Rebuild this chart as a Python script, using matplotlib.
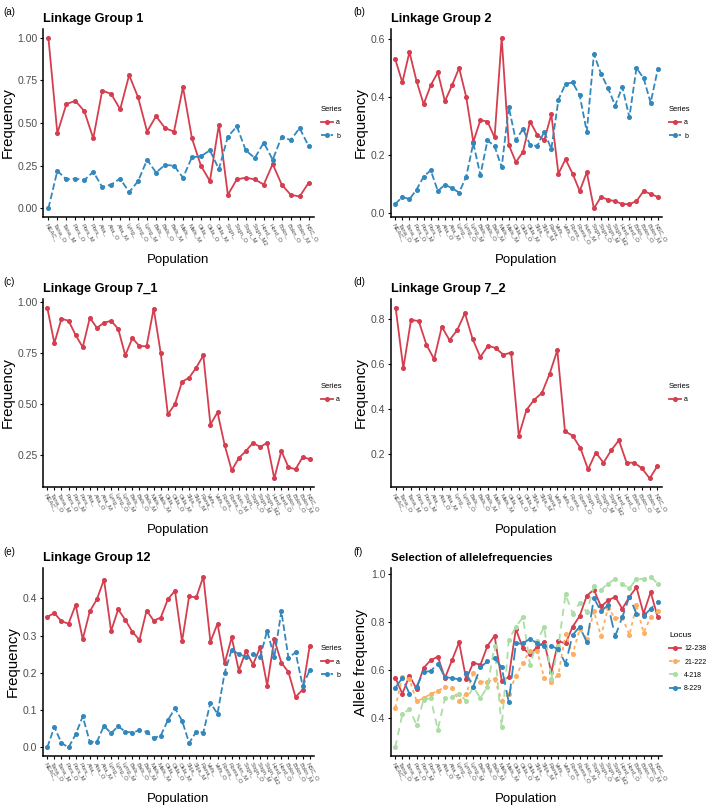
import matplotlib
matplotlib.use("Agg")
import matplotlib.pyplot as plt

plt.rcParams['font.family'] = ['Liberation Sans', 'DejaVu Sans']

# population labels
pops30 = ["NEAC_", "Tana_O", "Tana_M", "Pors_O", "Pors_M", "Pors_", "Alta_", "Alta_O",
          "Alta_M", "Lyng_", "Lyng_O", "Lyng_M", "Bals_", "Bals_O", "Bals_M", "Mals_",
          "Mals_M", "Okla_", "Okla_O", "Okla_M", "Sogn_", "Sogn_O", "Sogn_M", "Sogn_M2",
          "Hord_", "Hord_O", "Bokn_", "Bokn_O", "Bokn_M", "NSC_O"]
pops38 = ["NEAC_", "Tana_O", "Tana_M", "Pors_O", "Pors_M", "Pors_", "Alta_", "Alta_O",
          "Alta_M", "Lyng_", "Lyng_O", "Lyng_M", "Bals_", "Bals_O", "Bals_M", "Mals_",
          "Mals_M", "Okla_", "Okla_O", "Okla_M", "Skja_", "Skja_M", "Rana_", "Vefs_",
          "Vefs_O", "Roms_", "Roms_O", "Kvin_M", "Sogn_", "Sogn_O", "Sogn_M", "Sogn_M2",
          "Hord_", "Hord_O", "Bokn_", "Bokn_O", "Bokn_M", "NSC_O"]
pops35 = [p for p in pops38 if p not in ("Pors_", "Lyng_M", "Kvin_M")]

# linkage group 1
lg1_a = [1.00, 0.44, 0.61, 0.63, 0.57, 0.41, 0.69, 0.67, 0.58, 0.78, 0.65, 0.45, 0.54, 0.47, 0.45,
         0.71, 0.41, 0.25, 0.16, 0.49, 0.08, 0.17, 0.18, 0.17, 0.14, 0.26, 0.14, 0.08, 0.07, 0.15]
lg1_b = [0.00, 0.22, 0.17, 0.175, 0.165, 0.215, 0.125, 0.14, 0.175, 0.095, 0.16, 0.285, 0.21, 0.255, 0.25,
         0.18, 0.30, 0.305, 0.34, 0.23, 0.42, 0.48, 0.34, 0.295, 0.385, 0.285, 0.42, 0.40, 0.47, 0.365]

# linkage group 2
lg2_a = [0.53, 0.45, 0.555, 0.455, 0.375, 0.44, 0.485, 0.385, 0.44, 0.50, 0.40, 0.245, 0.32, 0.315,
         0.26, 0.605, 0.235, 0.175, 0.21, 0.315, 0.27, 0.25, 0.34, 0.135, 0.185, 0.135, 0.075, 0.14,
         0.015, 0.055, 0.045, 0.04, 0.03, 0.03, 0.04, 0.075, 0.065, 0.055]
lg2_b = [0.03, 0.055, 0.047, 0.08, 0.125, 0.147, 0.075, 0.097, 0.085, 0.07, 0.125, 0.24, 0.13, 0.25,
         0.23, 0.157, 0.365, 0.25, 0.29, 0.235, 0.23, 0.28, 0.22, 0.39, 0.445, 0.45, 0.405, 0.28,
         0.548, 0.48, 0.43, 0.37, 0.435, 0.33, 0.50, 0.465, 0.38, 0.495]

# linkage group 7_1 and 7_2
lg71_a = [0.975, 0.80, 0.92, 0.91, 0.84, 0.78, 0.925, 0.875, 0.90, 0.91, 0.87, 0.74, 0.825, 0.785,
          0.785, 0.97, 0.75, 0.45, 0.50, 0.61, 0.63, 0.68, 0.74, 0.40, 0.46, 0.30, 0.175, 0.235,
          0.27, 0.31, 0.29, 0.31, 0.135, 0.27, 0.19, 0.18, 0.24, 0.23]
lg72_a = [0.85, 0.58, 0.795, 0.79, 0.685, 0.62, 0.765, 0.705, 0.75, 0.825, 0.71, 0.63, 0.68, 0.67,
          0.64, 0.65, 0.28, 0.395, 0.44, 0.47, 0.555, 0.66, 0.30, 0.28, 0.225, 0.13, 0.205, 0.16,
          0.215, 0.26, 0.16, 0.16, 0.135, 0.09, 0.145]

# linkage group 12
lg12_a = [0.35, 0.36, 0.338, 0.332, 0.382, 0.29, 0.365, 0.397, 0.45, 0.312, 0.37, 0.342, 0.31, 0.288,
          0.367, 0.34, 0.348, 0.397, 0.42, 0.284, 0.405, 0.402, 0.458, 0.283, 0.332, 0.225, 0.295,
          0.206, 0.258, 0.222, 0.268, 0.166, 0.29, 0.227, 0.202, 0.135, 0.155, 0.273]
lg12_b = [0.0, 0.055, 0.012, 0.0, 0.035, 0.083, 0.015, 0.015, 0.058, 0.038, 0.057, 0.042, 0.04, 0.046,
          0.042, 0.025, 0.032, 0.073, 0.105, 0.072, 0.012, 0.042, 0.04, 0.12, 0.09, 0.2, 0.262, 0.25,
          0.243, 0.25, 0.242, 0.313, 0.242, 0.365, 0.24, 0.255, 0.165, 0.207]

# selected loci
loc_12_238 = [0.567, 0.50, 0.575, 0.52, 0.608, 0.64, 0.655, 0.565, 0.64, 0.715, 0.56, 0.63, 0.62, 0.70,
              0.742, 0.555, 0.57, 0.77, 0.69, 0.665, 0.695, 0.715, 0.59, 0.72, 0.71, 0.78, 0.825,
              0.91, 0.935, 0.865, 0.89, 0.905, 0.855, 0.905, 0.945, 0.835, 0.925, 0.82]
loc_21_222 = [0.44, 0.57, 0.56, 0.47, 0.48, 0.50, 0.51, 0.53, 0.525, 0.47, 0.50, 0.585, 0.55, 0.55,
              0.56, 0.47, 0.50, 0.575, 0.63, 0.68, 0.68, 0.565, 0.55, 0.58, 0.75, 0.665, 0.77, 0.73,
              0.845, 0.74, 0.86, 0.815, 0.82, 0.745, 0.87, 0.755, 0.82, 0.845]
loc_4_218 = [0.275, 0.415, 0.435, 0.37, 0.475, 0.48, 0.35, 0.48, 0.485, 0.50, 0.47, 0.53, 0.48, 0.53,
             0.70, 0.36, 0.725, 0.78, 0.82, 0.62, 0.72, 0.78, 0.56, 0.70, 0.915, 0.835, 0.88, 0.84,
             0.95, 0.935, 0.96, 0.98, 0.96, 0.94, 0.98, 0.98, 0.99, 0.96]
loc_8_229 = [0.525, 0.565, 0.50, 0.53, 0.59, 0.595, 0.625, 0.57, 0.565, 0.56, 0.585, 0.53, 0.61, 0.635,
             0.65, 0.61, 0.465, 0.71, 0.71, 0.73, 0.71, 0.70, 0.70, 0.685, 0.625, 0.745, 0.78, 0.715,
             0.90, 0.845, 0.87, 0.74, 0.82, 0.905, 0.835, 0.825, 0.855, 0.885]

RED = "#D53E4F"
ORANGE = "#FDAE61"
GREEN = "#ABDDA4"
BLUE = "#3288BD"

W, H = 709, 805
fig = plt.figure(figsize=(W / 100, H / 100), dpi=100)


def make_ax(x0, x1, top, bottom):
    return fig.add_axes([x0 / W, 1 - bottom / H, (x1 - x0) / W, (bottom - top) / H])


def style(ax, labels, series, title, ylabel, yticks, yfmt, legend_title, title_size=9.2,
          leg_font=5, leg_title=5.5):
    n = len(labels)
    vals = [v for s in series for v in s[1]]
    lo, hi = min(vals), max(vals)
    pad = 0.05 * (hi - lo)
    for name, y, color, ls in series:
        ax.plot(range(n), y, color=color, linestyle=ls, lw=1.3, marker='o', ms=2.6,
                label=name)
    ax.set_xlim(-0.6, n - 1 + 0.6)
    ax.set_ylim(lo - pad, hi + pad)
    ax.set_xticks(range(n))
    ax.set_xticklabels(labels, rotation=-60, ha='left', rotation_mode='anchor',
                       fontsize=4.3, color='#4D4D4D')
    ax.set_yticks(yticks)
    ax.set_yticklabels([yfmt.format(t) for t in yticks], fontsize=7.5, color='#4D4D4D')
    ax.tick_params(length=2.5, width=0.8, pad=1.5)
    for s in ('top', 'right'):
        ax.spines[s].set_visible(False)
    for s in ('left', 'bottom'):
        ax.spines[s].set_linewidth(1.1)
    ax.set_xlabel('Population', fontsize=9.5, labelpad=5)
    ax.set_ylabel(ylabel, fontsize=10.8, labelpad=2)
    ax.set_title(title, loc='left', fontsize=title_size, fontweight='bold', pad=5)
    ax.legend(loc='center left', bbox_to_anchor=(1.0, 0.5), frameon=False,
              title=legend_title, fontsize=leg_font, title_fontsize=leg_title,
              alignment='left', handlelength=1.7, handletextpad=0.5, labelspacing=0.9,
              borderaxespad=0.6)


ax = make_ax(43, 314, 29, 217)
style(ax, pops30, [('a', lg1_a, RED, '-'), ('b', lg1_b, BLUE, '--')],
      'Linkage Group 1', 'Frequency', [0, 0.25, 0.5, 0.75, 1.0], '{:.2f}', 'Series')

ax = make_ax(391, 662, 29, 217)
style(ax, pops38, [('a', lg2_a, RED, '-'), ('b', lg2_b, BLUE, '--')],
      'Linkage Group 2', 'Frequency', [0, 0.2, 0.4, 0.6], '{:.1f}', 'Series')

ax = make_ax(43, 314, 299, 487)
style(ax, pops38, [('a', lg71_a, RED, '-')],
      'Linkage Group 7_1', 'Frequency', [0.25, 0.5, 0.75, 1.0], '{:.2f}', 'Series')

ax = make_ax(391, 662, 299, 487)
style(ax, pops35, [('a', lg72_a, RED, '-')],
      'Linkage Group 7_2', 'Frequency', [0.2, 0.4, 0.6, 0.8], '{:.1f}', 'Series')

ax = make_ax(43, 314, 568, 756)
style(ax, pops38, [('a', lg12_a, RED, '-'), ('b', lg12_b, BLUE, '--')],
      'Linkage Group 12', 'Frequency', [0, 0.1, 0.2, 0.3, 0.4], '{:.1f}', 'Series')

ax = make_ax(391, 662, 568, 756)
style(ax, pops38, [('12-238', loc_12_238, RED, '-'),
                   ('21-222', loc_21_222, ORANGE, (0, (2, 2))),
                   ('4-218', loc_4_218, GREEN, (0, (4, 3))),
                   ('8-229', loc_8_229, BLUE, (0, (7, 3)))],
      'Selection of allelefrequencies', 'Allele frequency', [0.4, 0.6, 0.8, 1.0], '{:.1f}',
      'Locus', title_size=8.2, leg_font=5, leg_title=6)

for lab, x, y in [('(a)', 3, 12), ('(b)', 353, 12), ('(c)', 3, 282),
                  ('(d)', 353, 282), ('(e)', 3, 552), ('(f)', 353, 552)]:
    fig.text(x / W, 1 - y / H, lab, fontsize=7, va='center', ha='left')

fig.savefig('out.png', dpi=100)
